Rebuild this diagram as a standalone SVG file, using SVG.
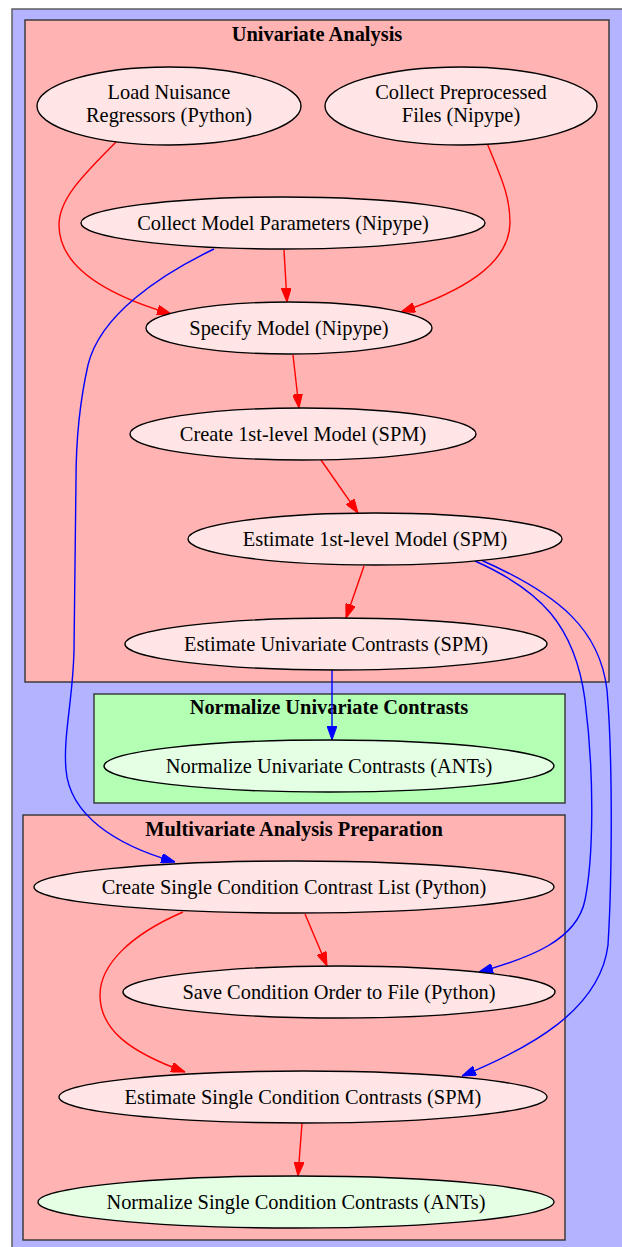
<svg xmlns="http://www.w3.org/2000/svg" width="622" height="1247" viewBox="0 0 622 1247">
<style>
.cl{stroke:#333;stroke-width:1.4}
.n ellipse{stroke:#000;stroke-width:1.4}
.t{font-family:"Liberation Serif","Times New Roman",serif;font-size:20.4px;fill:#000;text-anchor:middle}
.h{font-weight:bold}
.r{fill:none;stroke:#f00;stroke-width:1.4;marker-end:url(#ar)}
.b{fill:none;stroke:#00f;stroke-width:1.4;marker-end:url(#ab)}
.pk{fill:#ffe5e5}
.gn{fill:#e5ffe5}
</style>
<defs>
<marker id="ar" viewBox="0 0 14 10" refX="14" refY="5" markerWidth="14" markerHeight="10" markerUnits="userSpaceOnUse" orient="auto"><path d="M0,0 L14,5 L0,10 z" fill="#f00" stroke="#f00"/></marker>
<marker id="ab" viewBox="0 0 14 10" refX="14" refY="5" markerWidth="14" markerHeight="10" markerUnits="userSpaceOnUse" orient="auto"><path d="M0,0 L14,5 L0,10 z" fill="#00f" stroke="#00f"/></marker>
</defs>
<rect width="622" height="1247" fill="#fff"/>
<g id="cluster_outer"><rect x="12" y="9" width="620" height="1245" fill="#b3b3ff" stroke="#555" stroke-width="1.4"/></g>
<g id="cluster_univariate"><rect class="cl" x="25" y="20" width="584" height="662" fill="#ffb3b3"/><text class="t h" x="317" y="41">Univariate Analysis</text></g>
<g id="cluster_normalize"><rect class="cl" x="94" y="694" width="471" height="109" fill="#b3ffb3"/><text class="t h" x="329" y="714">Normalize Univariate Contrasts</text></g>
<g id="cluster_multivariate"><rect class="cl" x="23" y="815" width="542" height="425" fill="#ffb3b3"/><text class="t h" x="294" y="836">Multivariate Analysis Preparation</text></g>

<g id="connectors">
<path class="r" d="M116,142 C80,178 59,200 59,225 C59,268 110,296 171,314"/>
<path class="r" d="M487,143 C500,175 510,195 510,222 C510,265 460,292 401,312"/>
<path class="r" d="M284,250 L287,302"/>
<path class="r" d="M293,355 L299,408"/>
<path class="r" d="M321,460 L358,513"/>
<path class="r" d="M364,566 L346,618"/>
<path class="b" d="M214,249 C160,275 100,315 88,365 C79,405 76,440 76,480 L74,650 C73,700 63,735 66,770 C70,815 115,845 175,862"/>
<path class="b" d="M332,670 L332,740"/>
<path class="b" d="M475,561 C540,590 575,625 585,700 C595,780 593,860 585,900 C577,940 530,958 479,972"/>
<path class="b" d="M481,560 C560,595 600,630 607,690 C613,760 612,880 608,945 C600,1010 530,1048 462,1076"/>
<path class="r" d="M305,914 L327,966"/>
<path class="r" d="M183,912 C130,935 100,965 100,995 C100,1030 130,1052 185,1072"/>
<path class="r" d="M302,1123 L298,1176"/>
</g>

<g id="load_nuisance" class="n"><ellipse class="pk" cx="169" cy="106" rx="132" ry="39"/><text class="t" x="169" y="99">Load Nuisance</text><text class="t" x="169" y="122">Regressors (Python)</text></g>
<g id="collect_preprocessed" class="n"><ellipse class="pk" cx="461" cy="106" rx="136" ry="39"/><text class="t" x="461" y="99">Collect Preprocessed</text><text class="t" x="461" y="122">Files (Nipype)</text></g>
<g id="collect_model_params" class="n"><ellipse class="pk" cx="283" cy="223" rx="202" ry="26"/><text class="t" x="283" y="230">Collect Model Parameters (Nipype)</text></g>
<g id="specify_model" class="n"><ellipse class="pk" cx="289" cy="328" rx="143" ry="26"/><text class="t" x="289" y="335">Specify Model (Nipype)</text></g>
<g id="create_1st" class="n"><ellipse class="pk" cx="303" cy="434" rx="173" ry="26"/><text class="t" x="303" y="441">Create 1st-level Model (SPM)</text></g>
<g id="estimate_1st" class="n"><ellipse class="pk" cx="375" cy="539" rx="187" ry="26"/><text class="t" x="375" y="546">Estimate 1st-level Model (SPM)</text></g>
<g id="estimate_univariate" class="n"><ellipse class="pk" cx="336" cy="644" rx="211" ry="26"/><text class="t" x="336" y="651">Estimate Univariate Contrasts (SPM)</text></g>
<g id="normalize_univariate" class="n"><ellipse class="gn" cx="329" cy="766" rx="225" ry="26"/><text class="t" x="329" y="773">Normalize Univariate Contrasts (ANTs)</text></g>
<g id="create_single_list" class="n"><ellipse class="pk" cx="294" cy="887" rx="260" ry="26"/><text class="t" x="294" y="894">Create Single Condition Contrast List (Python)</text></g>
<g id="save_condition_order" class="n"><ellipse class="pk" cx="339" cy="992" rx="216" ry="26"/><text class="t" x="339" y="999">Save Condition Order to File (Python)</text></g>
<g id="estimate_single" class="n"><ellipse class="pk" cx="303" cy="1097" rx="244" ry="26"/><text class="t" x="303" y="1104">Estimate Single Condition Contrasts (SPM)</text></g>
<g id="normalize_single" class="n"><ellipse class="gn" cx="296" cy="1202" rx="258" ry="26"/><text class="t" x="296" y="1209">Normalize Single Condition Contrasts (ANTs)</text></g>
</svg>
